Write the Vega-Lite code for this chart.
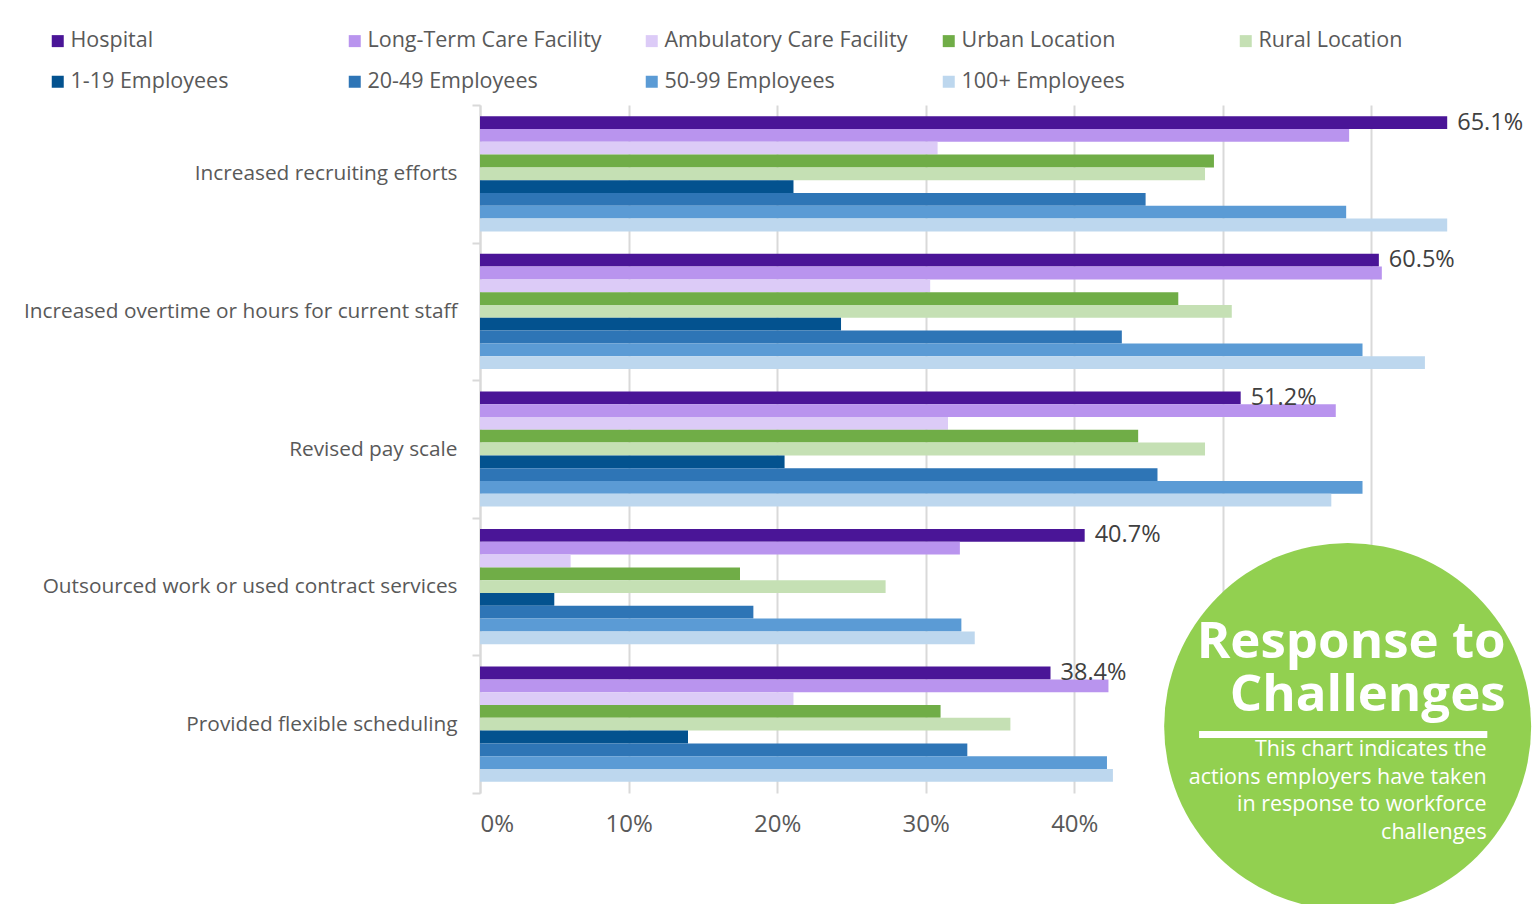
{
  "$schema": "https://vega.github.io/schema/vega-lite/v6.json",
  "width": 1040,
  "height": 688,
  "autosize": {"type": "none"},
  "padding": {"left": 480, "top": 105, "right": 15, "bottom": 111},
  "background": "white",
  "config": {"view": {"stroke": null}, "font": "Open Sans"},
  "datasets": {
    "main": [
      {"action": "Increased recruiting efforts", "group": "Hospital", "value": 0.651},
      {"action": "Increased recruiting efforts", "group": "Long-Term Care Facility", "value": 0.585},
      {"action": "Increased recruiting efforts", "group": "Ambulatory Care Facility", "value": 0.308},
      {"action": "Increased recruiting efforts", "group": "Urban Location", "value": 0.494},
      {"action": "Increased recruiting efforts", "group": "Rural Location", "value": 0.488},
      {"action": "Increased recruiting efforts", "group": "1-19 Employees", "value": 0.211},
      {"action": "Increased recruiting efforts", "group": "20-49 Employees", "value": 0.448},
      {"action": "Increased recruiting efforts", "group": "50-99 Employees", "value": 0.583},
      {"action": "Increased recruiting efforts", "group": "100+ Employees", "value": 0.651},
      {"action": "Increased overtime or hours for current staff", "group": "Hospital", "value": 0.605},
      {"action": "Increased overtime or hours for current staff", "group": "Long-Term Care Facility", "value": 0.607},
      {"action": "Increased overtime or hours for current staff", "group": "Ambulatory Care Facility", "value": 0.303},
      {"action": "Increased overtime or hours for current staff", "group": "Urban Location", "value": 0.470},
      {"action": "Increased overtime or hours for current staff", "group": "Rural Location", "value": 0.506},
      {"action": "Increased overtime or hours for current staff", "group": "1-19 Employees", "value": 0.243},
      {"action": "Increased overtime or hours for current staff", "group": "20-49 Employees", "value": 0.432},
      {"action": "Increased overtime or hours for current staff", "group": "50-99 Employees", "value": 0.594},
      {"action": "Increased overtime or hours for current staff", "group": "100+ Employees", "value": 0.636},
      {"action": "Revised pay scale", "group": "Hospital", "value": 0.512},
      {"action": "Revised pay scale", "group": "Long-Term Care Facility", "value": 0.576},
      {"action": "Revised pay scale", "group": "Ambulatory Care Facility", "value": 0.315},
      {"action": "Revised pay scale", "group": "Urban Location", "value": 0.443},
      {"action": "Revised pay scale", "group": "Rural Location", "value": 0.488},
      {"action": "Revised pay scale", "group": "1-19 Employees", "value": 0.205},
      {"action": "Revised pay scale", "group": "20-49 Employees", "value": 0.456},
      {"action": "Revised pay scale", "group": "50-99 Employees", "value": 0.594},
      {"action": "Revised pay scale", "group": "100+ Employees", "value": 0.573},
      {"action": "Outsourced work or used contract services", "group": "Hospital", "value": 0.407},
      {"action": "Outsourced work or used contract services", "group": "Long-Term Care Facility", "value": 0.323},
      {"action": "Outsourced work or used contract services", "group": "Ambulatory Care Facility", "value": 0.061},
      {"action": "Outsourced work or used contract services", "group": "Urban Location", "value": 0.175},
      {"action": "Outsourced work or used contract services", "group": "Rural Location", "value": 0.273},
      {"action": "Outsourced work or used contract services", "group": "1-19 Employees", "value": 0.050},
      {"action": "Outsourced work or used contract services", "group": "20-49 Employees", "value": 0.184},
      {"action": "Outsourced work or used contract services", "group": "50-99 Employees", "value": 0.324},
      {"action": "Outsourced work or used contract services", "group": "100+ Employees", "value": 0.333},
      {"action": "Provided flexible scheduling", "group": "Hospital", "value": 0.384},
      {"action": "Provided flexible scheduling", "group": "Long-Term Care Facility", "value": 0.423},
      {"action": "Provided flexible scheduling", "group": "Ambulatory Care Facility", "value": 0.211},
      {"action": "Provided flexible scheduling", "group": "Urban Location", "value": 0.310},
      {"action": "Provided flexible scheduling", "group": "Rural Location", "value": 0.357},
      {"action": "Provided flexible scheduling", "group": "1-19 Employees", "value": 0.140},
      {"action": "Provided flexible scheduling", "group": "20-49 Employees", "value": 0.328},
      {"action": "Provided flexible scheduling", "group": "50-99 Employees", "value": 0.422},
      {"action": "Provided flexible scheduling", "group": "100+ Employees", "value": 0.426}
    ],
    "badge": [
      {"action": "Provided flexible scheduling", "value": 0.584, "value2": 0.484, "value3": 0.678,
       "title": "Response to\nChallenges",
       "subtitle": "This chart indicates the\nactions employers have taken\nin response to workforce\nchallenges"}
    ]
  },
  "layer": [
    {
      "data": {"name": "main"},
      "mark": {"type": "bar"},
      "encoding": {
        "y": {
          "field": "action", "type": "nominal", "sort": null,
          "scale": {"paddingInner": 0, "paddingOuter": 0},
          "axis": {
            "title": null, "labelFontSize": 20.8, "labelColor": "#595959", "labelPadding": 15,
            "tickSize": 8, "tickColor": "#d9d9d9", "tickWidth": 2, "domainColor": "#d9d9d9",
            "domainWidth": 2, "tickBand": "extent", "labelLimit": 500
          }
        },
        "x": {
          "field": "value", "type": "quantitative",
          "scale": {"domain": [0, 0.7], "nice": false},
          "axis": {
            "title": null, "format": ".0%", "values": [0, 0.1, 0.2, 0.3, 0.4, 0.5, 0.6],
            "grid": true, "gridColor": "#d9d9d9", "gridWidth": 2, "domain": false, "ticks": false,
            "labelFontSize": 24, "labelColor": "#595959", "labelPadding": 19
          }
        },
        "yOffset": {
          "field": "group", "type": "nominal",
          "sort": ["Hospital", "Long-Term Care Facility", "Ambulatory Care Facility", "Urban Location", "Rural Location", "1-19 Employees", "20-49 Employees", "50-99 Employees", "100+ Employees"],
          "scale": {"paddingInner": 0, "paddingOuter": 0.875}
        },
        "color": {
          "field": "group", "type": "nominal",
          "scale": {
            "domain": ["Hospital", "Long-Term Care Facility", "Ambulatory Care Facility", "Urban Location", "Rural Location", "1-19 Employees", "20-49 Employees", "50-99 Employees", "100+ Employees"],
            "range": ["#4a1597", "#b994ee", "#dccbf7", "#70ad47", "#c5e0b4", "#03528f", "#2e75b6", "#5b9bd5", "#bdd7ee"]
          },
          "legend": {
            "orient": "none", "legendX": -433, "legendY": -75, "direction": "horizontal",
            "columns": 5, "symbolType": "square", "symbolSize": 144, "symbolStrokeWidth": 0,
            "labelFontSize": 21.5, "labelColor": "#595959", "columnPadding": 30, "rowPadding": 18,
            "gridAlign": "all", "title": null, "labelOffset": 2, "padding": 0, "labelLimit": 400
          }
        }
      }
    },
    {
      "data": {"name": "main"},
      "transform": [{"filter": "datum.group === 'Hospital'"}],
      "mark": {"type": "text", "align": "left", "baseline": "middle", "dx": 10, "fontSize": 23.5, "color": "#404040"},
      "encoding": {
        "y": {"field": "action", "type": "nominal", "sort": null},
        "x": {"field": "value", "type": "quantitative"},
        "yOffset": {
          "field": "group", "type": "nominal",
          "sort": ["Hospital", "Long-Term Care Facility", "Ambulatory Care Facility", "Urban Location", "Rural Location", "1-19 Employees", "20-49 Employees", "50-99 Employees", "100+ Employees"]
        },
        "text": {"field": "value", "type": "quantitative", "format": ".1%"}
      }
    },
    {
      "data": {"name": "badge"},
      "mark": {"type": "point", "shape": "circle", "filled": true, "color": "#92d050", "opacity": 1, "size": 134700, "clip": false},
      "encoding": {
        "y": {"field": "action", "type": "nominal", "sort": null},
        "x": {"field": "value", "type": "quantitative"},
        "yOffset": {"value": 71}
      }
    },
    {
      "data": {"name": "badge"},
      "mark": {"type": "text", "align": "right", "baseline": "alphabetic", "dx": 158, "dy": -66, "fontSize": 51, "fontWeight": "bold", "color": "white", "lineHeight": 53, "lineBreak": "\n"},
      "encoding": {
        "y": {"field": "action", "type": "nominal", "sort": null},
        "x": {"field": "value", "type": "quantitative"},
        "text": {"field": "title"}
      }
    },
    {
      "data": {"name": "badge"},
      "mark": {"type": "rule", "color": "white", "strokeWidth": 7},
      "encoding": {
        "y": {"field": "action", "type": "nominal", "sort": null},
        "x": {"field": "value2", "type": "quantitative"},
        "x2": {"field": "value3"},
        "yOffset": {"value": 79}
      }
    },
    {
      "data": {"name": "badge"},
      "mark": {"type": "text", "align": "right", "baseline": "alphabetic", "dx": 139, "dy": 32, "fontSize": 21.5, "color": "white", "lineHeight": 27.5, "lineBreak": "\n"},
      "encoding": {
        "y": {"field": "action", "type": "nominal", "sort": null},
        "x": {"field": "value", "type": "quantitative"},
        "text": {"field": "subtitle"}
      }
    }
  ]
}
